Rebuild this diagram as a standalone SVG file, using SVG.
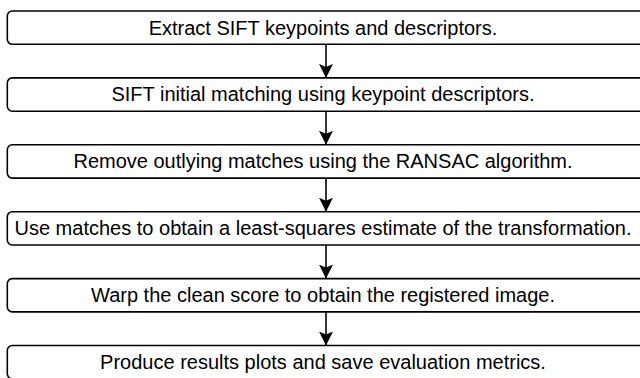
<svg xmlns="http://www.w3.org/2000/svg" width="640" height="378" viewBox="0 0 640 378">
<defs>
<marker id="ah" viewBox="0 0 14 14" refX="14" refY="7" markerWidth="14" markerHeight="14" markerUnits="userSpaceOnUse" orient="auto">
<path d="M0,0 L14,7 L0,14 L3,7 Z" fill="#000"/>
</marker>
<style>
.box{fill:#fff;stroke:#000;stroke-width:1.6}
.lbl{font-family:"Liberation Sans",Arial,sans-serif;font-size:20px;fill:#000;text-anchor:middle}
.con{stroke:#000;stroke-width:1.6;fill:none}
</style>
</defs>
<rect width="640" height="378" fill="#fff"/>
<g id="n1"><rect class="box" x="7.3" y="11" width="637.4" height="33.3" rx="5"/><text class="lbl" x="323" y="34.5">Extract SIFT keypoints and descriptors.</text></g>
<g id="n2"><rect class="box" x="7.3" y="77.9" width="637.4" height="33.3" rx="5"/><text class="lbl" x="323" y="101.4">SIFT initial matching using keypoint descriptors.</text></g>
<g id="n3"><rect class="box" x="7.3" y="144.8" width="637.4" height="33.3" rx="5"/><text class="lbl" x="323" y="168.3">Remove outlying matches using the RANSAC algorithm.</text></g>
<g id="n4"><rect class="box" x="7.3" y="211.7" width="637.4" height="33.3" rx="5"/><text class="lbl" x="323" y="235.2">Use matches to obtain a least-squares estimate of the transformation.</text></g>
<g id="n5"><rect class="box" x="7.3" y="278.6" width="637.4" height="33.3" rx="5"/><text class="lbl" x="323" y="302.1">Warp the clean score to obtain the registered image.</text></g>
<g id="n6"><rect class="box" x="7.3" y="345.5" width="637.4" height="33.3" rx="5"/><text class="lbl" x="323" y="369">Produce results plots and save evaluation metrics.</text></g>
<g id="connectors">
<line class="con" x1="326" y1="44.3" x2="326" y2="77.9" marker-end="url(#ah)"/>
<line class="con" x1="326" y1="111.2" x2="326" y2="144.8" marker-end="url(#ah)"/>
<line class="con" x1="326" y1="178.1" x2="326" y2="211.7" marker-end="url(#ah)"/>
<line class="con" x1="326" y1="245" x2="326" y2="278.6" marker-end="url(#ah)"/>
<line class="con" x1="326" y1="311.9" x2="326" y2="345.5" marker-end="url(#ah)"/>
</g>
</svg>
